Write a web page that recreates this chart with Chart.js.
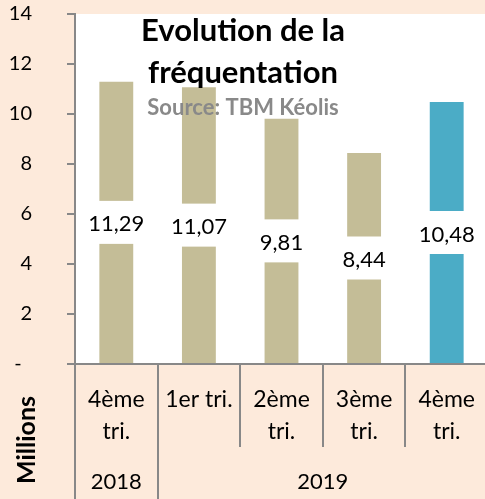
<!DOCTYPE html>
<html lang="fr">
<head>
<meta charset="UTF-8">
<title>Evolution de la fréquentation</title>
<script src="https://cdn.jsdelivr.net/npm/chart.js"></script>
<style>
  html, body { margin: 0; padding: 0; background: #FDEADB; overflow: hidden; }
  #wrap { width: 485px; height: 499px; overflow: hidden; }
</style>
</head>
<body>
<div id="wrap"><canvas id="chart" width="488" height="499"></canvas></div>
<script>
// données
const trimestres = [['4ème', 'tri.'], '1er tri.', ['2ème', 'tri.'], ['3ème', 'tri.'], ['4ème', 'tri.']];
const annees = ['2018', '2019'];
const nbTrimestres = [1, 4];
const voyageurs = [11.29, 11.07, 9.81, 8.44, 10.48];
const couleurs = ['#C4BD97', '#C4BD97', '#C4BD97', '#C4BD97', '#4BACC6'];
const titre = ['Evolution de la', 'fréquentation'];
const source = 'Source: TBM Kéolis';

Chart.defaults.font.family = 'Lato';
Chart.defaults.color = '#000';

const gris = '#888888';
const peche = '#FDEADB';

const decor = {
  id: 'decor',
  beforeDraw(chart) {
    const { ctx, chartArea: a } = chart;
    ctx.save();
    ctx.fillStyle = peche;
    ctx.fillRect(0, 0, chart.width, chart.height);
    ctx.fillStyle = '#fff';
    ctx.fillRect(a.left, a.top, a.right - a.left, a.bottom - a.top);
    ctx.restore();
  },
  afterDatasetsDraw(chart) {
    // étiquettes de données au milieu des barres
    const ctx = chart.ctx;
    const meta = chart.getDatasetMeta(0);
    ctx.save();
    ctx.font = '22px Lato';
    ctx.textAlign = 'center';
    ctx.textBaseline = 'middle';
    meta.data.forEach((bar, i) => {
      const txt = voyageurs[i].toFixed(2).replace('.', ',');
      const cy = (bar.y + bar.base) / 2;
      const tw = ctx.measureText(txt).width;
      ctx.fillStyle = '#fff';
      ctx.fillRect(bar.x - tw / 2 - 5, cy - 21.5, tw + 10, 43);
      ctx.fillStyle = '#000';
      ctx.fillText(txt, bar.x, cy + 2);
    });
    ctx.restore();
  },
  afterDraw(chart) {
    const ctx = chart.ctx;
    const xs = chart.scales.x;
    const n = trimestres.length;
    const w = (xs.right - xs.left) / n;
    ctx.save();

    // séparateurs de l'axe des catégories
    const debuts = [];
    let k = 0;
    nbTrimestres.forEach(c => { debuts.push(k); k += c; });
    ctx.strokeStyle = gris;
    ctx.lineWidth = 2;
    for (let i = 0; i <= n; i++) {
      const x = Math.round(xs.left + i * w);
      const long = debuts.includes(i) || i === n;
      ctx.beginPath();
      ctx.moveTo(x, xs.top);
      ctx.lineTo(x, long ? chart.height : xs.top + 83);
      ctx.stroke();
    }

    // années
    ctx.fillStyle = '#000';
    ctx.font = '22px Lato';
    ctx.textAlign = 'center';
    ctx.textBaseline = 'middle';
    annees.forEach((an, j) => {
      const cx = xs.left + (debuts[j] + nbTrimestres[j] / 2) * w;
      ctx.fillText(an, cx, xs.top + 118);
    });

    // titre de l'axe
    ctx.save();
    ctx.translate(27, 440);
    ctx.rotate(-Math.PI / 2);
    ctx.font = 'bold 25px Lato';
    ctx.fillText('Millions', 0, 0);
    ctx.restore();

    // titre
    const cx = chart.width / 2 - 1;
    ctx.textBaseline = 'alphabetic';
    ctx.font = 'bold 31px Lato';
    ctx.fillText(titre[0], cx, 41);
    ctx.fillText(titre[1], cx, 83);
    ctx.font = 'bold 22px Lato';
    ctx.fillStyle = '#898989';
    ctx.fillText(source, cx, 115);
    ctx.restore();
  }
};

new Chart(document.getElementById('chart'), {
  type: 'bar',
  data: {
    labels: trimestres,
    datasets: [{
      data: voyageurs,
      backgroundColor: couleurs,
      categoryPercentage: 1,
      barPercentage: 0.41
    }]
  },
  options: {
    responsive: false,
    animation: false,
    layout: { padding: { top: 14, left: 0, right: 0, bottom: 0 } },
    plugins: {
      legend: { display: false },
      tooltip: { enabled: false }
    },
    scales: {
      x: {
        grid: { display: false },
        border: { display: true, color: gris, width: 2 },
        ticks: {
          font: { size: 23, lineHeight: 1.4 },
          padding: 11,
          maxRotation: 0,
          autoSkip: false
        },
        afterFit: s => { s.height = 135; }
      },
      y: {
        min: 0,
        max: 14,
        grid: { drawOnChartArea: false, tickLength: 8, color: gris, lineWidth: 2 },
        border: { display: true, color: gris, width: 2 },
        ticks: {
          stepSize: 2,
          padding: 35,
          font: { size: 20 },
          callback: v => v === 0 ? '-  ' : v
        },
        afterFit: s => {
          s.width = 75;
          s.paddingTop = 12;
          s.paddingBottom = 12;
        }
      }
    }
  },
  plugins: [decor]
});
</script>
</body>
</html>
